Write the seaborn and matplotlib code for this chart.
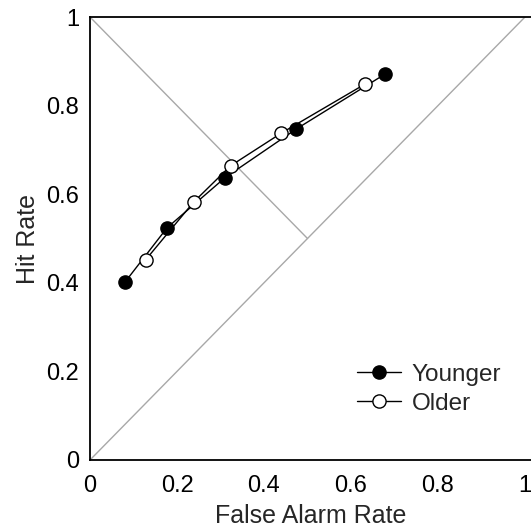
import pandas as pd
import matplotlib
matplotlib.use("Agg")
import matplotlib.pyplot as plt
import seaborn as sns

# ROC points
younger_far = [0.08, 0.177, 0.31, 0.474, 0.678]
younger_hit = [0.401, 0.524, 0.637, 0.747, 0.871]
older_far = [0.128, 0.238, 0.323, 0.44, 0.633]
older_hit = [0.452, 0.582, 0.664, 0.738, 0.849]

ticks = [0, 0.2, 0.4, 0.6, 0.8, 1]
tick_labels = ["0", "0.2", "0.4", "0.6", "0.8", "1"]

sns.set_style("white")
plt.rcParams["font.family"] = ["Liberation Sans", "DejaVu Sans"]
plt.rcParams["font.size"] = 17

young = pd.DataFrame({"far": younger_far, "hit": younger_hit})
old = pd.DataFrame({"far": older_far, "hit": older_hit})

fig = plt.figure(figsize=(5.31, 5.27), dpi=100)
ax = fig.add_axes([90 / 531, 67 / 527, 441 / 531, 443 / 527])

# reference lines: chance diagonal and negative diagonal to its midpoint
ax.plot([0, 1.05], [0, 1.05], color="#a8a8a8", lw=1, zorder=1)
ax.plot([0, 0.5], [1, 0.5], color="#a8a8a8", lw=1, zorder=1)

sns.lineplot(data=young, x="far", y="hit", sort=False, ax=ax, color="black",
             lw=1, marker="o", markersize=9.5, markerfacecolor="black",
             markeredgecolor="black", markeredgewidth=1, label="Younger", zorder=3)
sns.lineplot(data=old, x="far", y="hit", sort=False, ax=ax, color="black",
             lw=1, marker="o", markersize=9.5, markerfacecolor="white",
             markeredgecolor="black", markeredgewidth=1, label="Older", zorder=4)

ax.set_xlim(0, 441 / 435)
ax.set_ylim(0, 1)
ax.set_xticks(ticks)
ax.set_xticklabels(tick_labels)
ax.set_yticks(ticks)
ax.set_yticklabels(tick_labels)
ax.tick_params(direction="in", length=6.5, width=1.2, labelsize=17,
               colors="black")
ax.tick_params(axis="x", top=False, pad=11)
ax.tick_params(axis="y", right=False, pad=8)

for side in ["left", "bottom", "top"]:
    ax.spines[side].set_color("black")
    ax.spines[side].set_linewidth(1.3)
ax.spines["right"].set_visible(False)

ax.set_xlabel("False Alarm Rate", fontsize=18, labelpad=5)
ax.set_ylabel("Hit Rate", fontsize=18, labelpad=4)

ax.legend(loc="center left", bbox_to_anchor=(0.605, 0.16), frameon=False,
          borderpad=0, borderaxespad=0, handlelength=1.8, handletextpad=0.45,
          labelspacing=0.28, fontsize=17.5)

fig.savefig("out.png", dpi=100)
plt.close()
